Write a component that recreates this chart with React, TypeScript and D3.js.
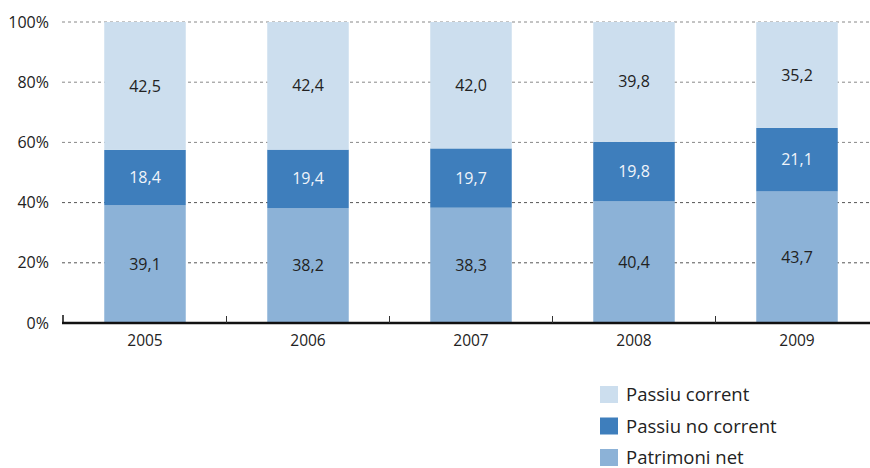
import React from "react";
import * as d3 from "d3";

const years = ["2005", "2006", "2007", "2008", "2009"];
const patrimoniNet = [39.1, 38.2, 38.3, 40.4, 43.7];
const passiuNoCorrent = [18.4, 19.4, 19.7, 19.8, 21.1];
const passiuCorrent = [42.5, 42.4, 42.0, 39.8, 35.2];
const yTicks = [0, 20, 40, 60, 80, 100];
const seriesNames = ["Patrimoni net", "Passiu no corrent", "Passiu corrent"];
const seriesColors = ["#8cb2d7", "#3e7ebc", "#ccdeee"];
const labelColors = ["#222", "#f0f4fa", "#222"];
const legendOrder = [2, 1, 0];

const W = 870, H = 468;
const FONT = "'Open Sans', 'Noto Sans', sans-serif";

export default function App() {
  const x = d3.scaleBand<string>().domain(years).range([63.5, 878.5]).paddingInner(0.5).paddingOuter(0.25);
  const y = d3.scaleLinear().domain([0, 100]).range([323, 22]);
  const table = years.map((yr, i) => ({ year: yr, s0: patrimoniNet[i], s1: passiuNoCorrent[i], s2: passiuCorrent[i] }));
  const stack = d3.stack<any>().keys(["s0", "s1", "s2"])(table);
  const step = x.step();

  return (
    <svg width={W} height={H} style={{ position: "absolute", left: 0, top: 0 }} fontFamily={FONT}>
      {yTicks.filter((t) => t > 0).map((t) => (
        <line key={t} x1={62} x2={W} y1={y(t)} y2={y(t)} stroke={t >= 60 ? "#888" : "#555"} strokeWidth={1} strokeDasharray="3,3" />
      ))}
      {yTicks.map((t) => (
        <text key={t} x={49} y={y(t)} dy="0.35em" textAnchor="end" fontSize={16} fill="#222">{t}%</text>
      ))}
      {stack.map((layer, si) => (
        <g key={si}>
          {layer.map((d, i) => (
            <g key={i}>
              <rect x={x(years[i])} width={x.bandwidth()} y={y(d[1])} height={y(d[0]) - y(d[1])} fill={seriesColors[si]} />
              <text x={(x(years[i]) as number) + x.bandwidth() / 2} y={(y(d[0]) + y(d[1])) / 2} dy="0.35em" textAnchor="middle" fontSize={16} fill={labelColors[si]}>
                {(d[1] - d[0]).toFixed(1).replace(".", ",")}
              </text>
            </g>
          ))}
        </g>
      ))}
      <line x1={62} x2={W} y1={y(0)} y2={y(0)} stroke="#111" strokeWidth={2.5} />
      <line x1={63} x2={63} y1={y(0) - 8} y2={y(0)} stroke="#111" strokeWidth={1.5} />
      {years.slice(1).map((yr) => {
        const bx = (x(yr) as number) - (step - x.bandwidth()) / 2;
        return <line key={yr} x1={bx} x2={bx} y1={y(0) - 7} y2={y(0)} stroke="#333" strokeWidth={1} />;
      })}
      {years.map((yr) => (
        <text key={yr} x={(x(yr) as number) + x.bandwidth() / 2} y={341} dy="0.35em" textAnchor="middle" fontSize={15.5} fill="#222">{yr}</text>
      ))}
      {legendOrder.map((si, k) => (
        <g key={si} transform={`translate(600, ${386 + k * 31.5})`}>
          <rect width={18} height={17} fill={seriesColors[si]} />
          <text x={26} y={9} dy="0.35em" fontSize={18.5} fill="#222">{seriesNames[si]}</text>
        </g>
      ))}
    </svg>
  );
}
